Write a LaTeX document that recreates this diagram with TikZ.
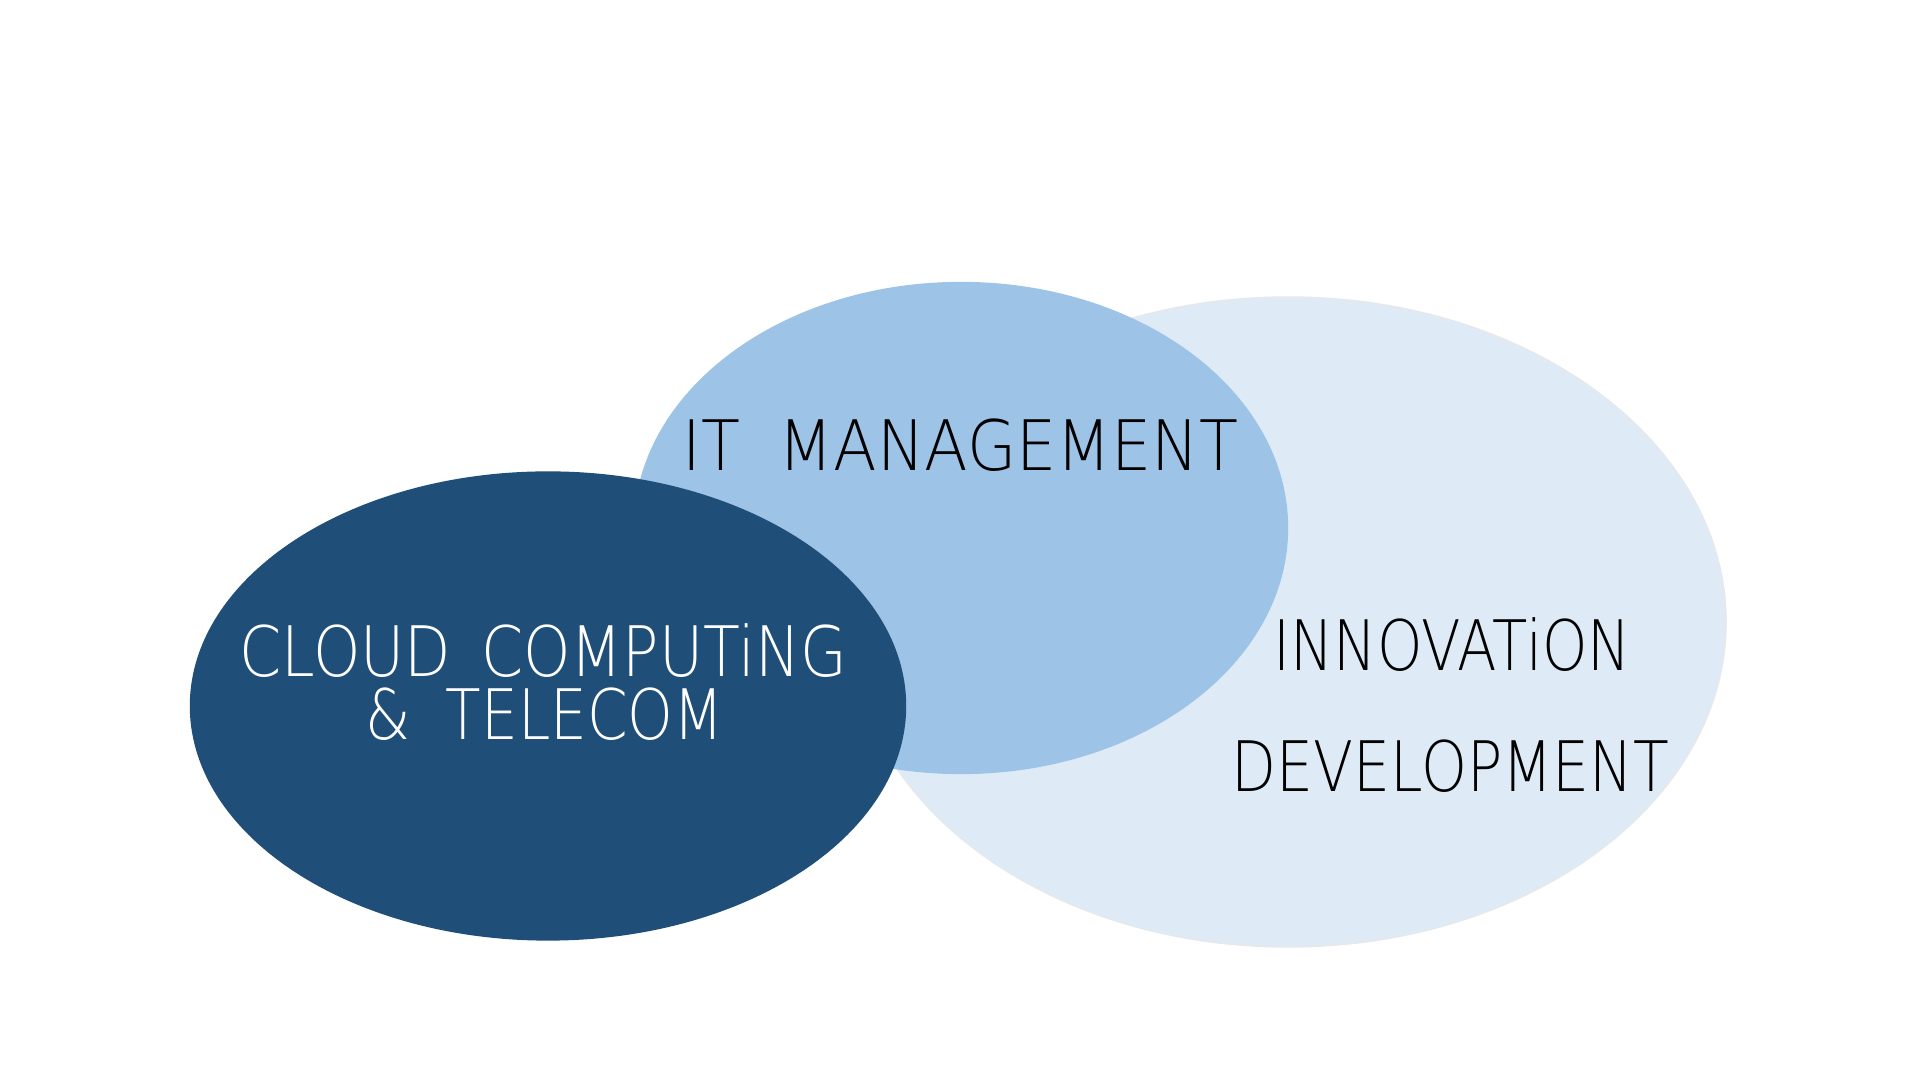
\documentclass[tikz,border=0pt]{standalone}
\usepackage{fontspec}
\usepackage{graphicx}
\usetikzlibrary{shapes.geometric}
\newfontfamily\thinfont{DejaVu Sans ExtraLight}
\definecolor{navy}{HTML}{1F4E79}
\definecolor{midblue}{HTML}{9DC3E6}
\definecolor{paleblue}{HTML}{DEEBF7}
\tikzset{
  blob/.style={ellipse, inner sep=0pt, draw=none},
  label/.style={anchor=base west, inner sep=0pt, font=\thinfont\fontsize{19.8}{24}\selectfont},
}
\begin{document}
\begin{tikzpicture}[x=0.01cm, y=-0.01cm]
  \useasboundingbox (0,0) rectangle (1920,1080);
  \fill[white] (0,0) rectangle (1920,1080);
  % three overlapping areas
  \node[blob, fill=paleblue, draw=black!9, line width=0.3pt,
        minimum width=8.76cm, minimum height=6.5cm] (innov) at (1288,622) {};
  \node[blob, fill=midblue, minimum width=6.54cm, minimum height=4.92cm] (itm) at (961,528) {};
  \node[blob, fill=navy, minimum width=7.16cm, minimum height=4.69cm] (cloud) at (548,706) {};
  % labels (narrowed letterforms)
  \node[label, text=black] (itlab) at (682,471) {\scalebox{0.914}[1]{IT\hspace{0.6em}MANAGEMENT}};
  \node[label, text=white] (cloudlab1) at (239,677) {\scalebox{0.866}[1]{CLOUD\hspace{0.5em}COMPUTiNG}};
  \node[label, text=white] (cloudlab2) at (365,740) {\scalebox{0.835}[1]{\&\hspace{0.6em}TELECOM}};
  \node[label, text=black] (innovlab) at (1273,671) {\scalebox{0.83}[1]{INNOVATiON}};
  \node[label, text=black] (devlab) at (1231,792) {\scalebox{0.84}[1]{DEVELOPMENT}};
\end{tikzpicture}
\end{document}
